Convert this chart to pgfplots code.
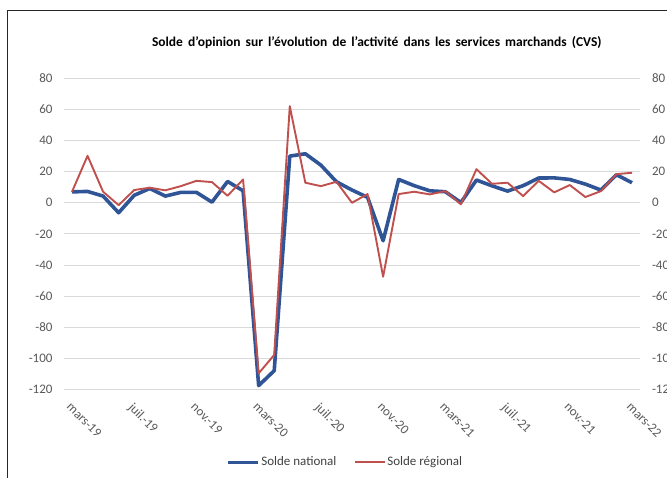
\documentclass[border=0pt]{standalone}
\usepackage{fontspec}
\setmainfont{Carlito}
\usepackage{pgfplots}
\usepackage{pgfplotstable}
\pgfplotsset{compat=1.18}
\definecolor{natblue}{HTML}{2F5597}
\definecolor{regred}{HTML}{C0504D}
\definecolor{gridgray}{HTML}{D9D9D9}
\definecolor{labgray}{HTML}{595959}
\definecolor{legtext}{HTML}{404040}
\pgfplotstableread{
i nat reg
0 7 7
1 7.3 30.2
2 4.3 7.1
3 -6.4 -1.5
4 4.8 8.2
5 9.2 9.7
6 4.3 8
7 6.7 10.7
8 6.7 14.1
9 0.4 13.3
10 13.7 4.5
11 7.7 15
12 -117.5 -109.6
13 -107.9 -97.8
14 30 62.1
15 31.5 12.9
16 24.2 10.7
17 13.5 13.5
18 8.2 0
19 3.5 5.6
20 -24.4 -47.5
21 15 5.6
22 11 7.1
23 7.7 5.4
24 7.1 7.5
25 0.2 -1
26 14.6 21.6
27 10.9 12.2
28 7.5 12.9
29 11 4.3
30 15.9 14.1
31 16 6.7
32 15 11.4
33 12 3.7
34 8.2 7.5
35 18 18.4
36 12.9 19.3
}\datatable
\begin{document}
\fontsize{13}{15.6}\selectfont
\begin{tikzpicture}
\pgfplotsset{
  common/.style={
    at={(64.2pt,-389.5pt)}, anchor=south west,
    scale only axis, width=575.6pt, height=311.2pt,
    xmin=-0.5, xmax=36.5, ymin=-120, ymax=80,
    ytick={-120,-100,-80,-60,-40,-20,0,20,40,60,80},
    yticklabels={-120,-100,-80,-60,-40,-20,0,20,40,60,80},
    major tick length=0pt,
    axis line style={draw=none},
    tick label style={font=\fontsize{13}{15.6}\selectfont, text=labgray},
  }
}
\begin{axis}[common,
    xtick={0,4,...,36},
    xticklabels={mars-19,juil.-19,nov.-19,mars-20,juil.-20,nov.-20,mars-21,juil.-21,nov.-21,mars-22},
    xticklabel style={yshift=-12pt, inner sep=0pt, rotate=-45, anchor=north west},
    yticklabel style={inner sep=0pt, anchor=east, xshift=-11.5pt},
    ymajorgrids, grid style={gridgray, line width=1pt},
    legend columns=2,
    legend style={at={(0.4878,-0.234)}, anchor=center, draw=none, fill=none,
      font=\fontsize{13}{15.6}\selectfont, text=legtext,
      nodes={inner sep=1.5pt},
      /tikz/every even column/.append style={column sep=16pt}},
    legend image code/.code={\draw[#1] (0pt,0pt) -- (30pt,0pt);},
  ]
\addplot[natblue, line width=3.6pt, line join=round] table[x=i, y=nat] {\datatable};
\addlegendentry{Solde national}
\addplot[regred, line width=1.9pt, line join=round] table[x=i, y=reg] {\datatable};
\addlegendentry{Solde régional}
\end{axis}
\begin{axis}[common,
    axis y line*=right, hide x axis,
    yticklabel style={inner sep=0pt, anchor=west, xshift=12pt},
  ]
\addplot[draw=none] coordinates {(0,0)};
\end{axis}
\draw[line width=1.2pt, black!85] (7.3pt,-520pt) -- (7.3pt,-10.7pt) -- (720pt,-10.7pt);
\node[font=\bfseries\fontsize{13.5}{16}\selectfont] at (376.8pt,-42.3pt) {\spaceskip=5pt plus 0pt minus 0pt Solde d'opinion sur l'évolution de l'activité dans les services marchands (CVS)};
\pgfresetboundingbox
\useasboundingbox (0pt,0pt) rectangle (667pt,-477pt);
\end{tikzpicture}
\end{document}
